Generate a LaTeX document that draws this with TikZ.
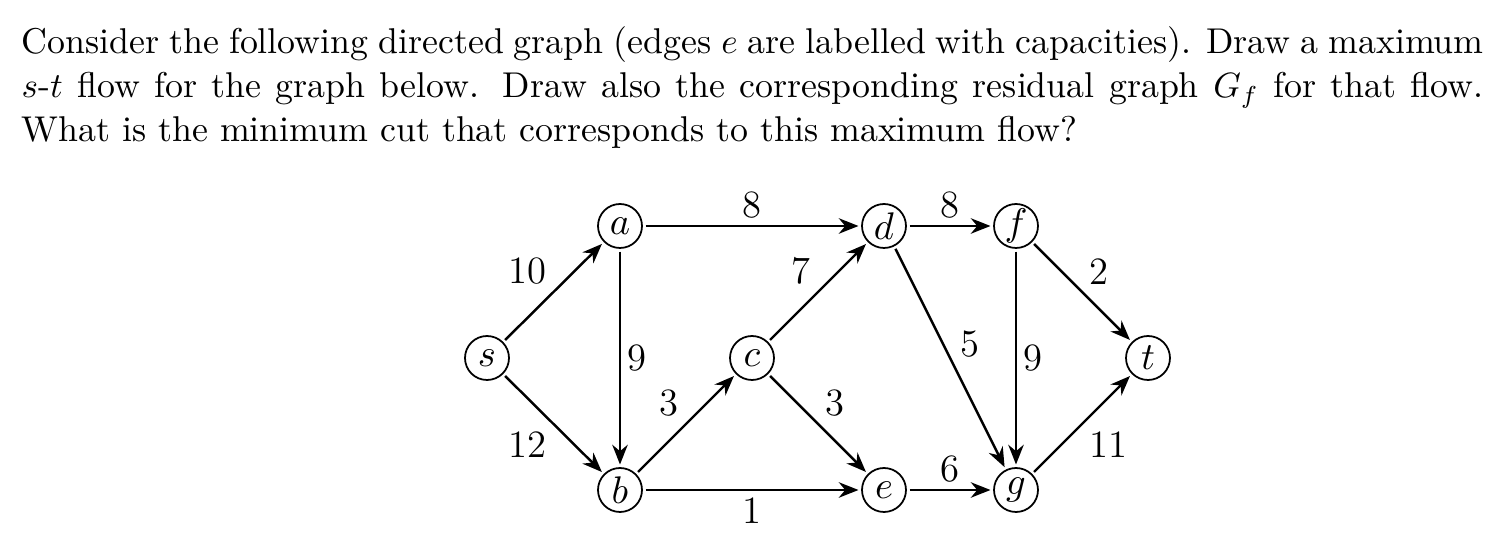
\documentclass[tikz,border=0pt]{standalone}
\usetikzlibrary{arrows.meta}
\tikzset{
    vertex/.style={circle, draw, line width=0.5pt, minimum size=4.4mm, inner sep=0pt,
                   outer sep=1pt, font=\fontsize{11}{13}\selectfont},
    capedge/.style={-{Stealth[length=5.6pt, width=4.4pt]}, line width=0.7pt},
    caplabel/.style={font=\fontsize{11}{13}\selectfont, inner sep=1.8pt},
    question/.style={text width=14.62cm, align=justify, inner sep=0pt,
                     font=\fontsize{10.2}{12.5}\selectfont},
}
\begin{document}
\begin{tikzpicture}

    \useasboundingbox (0,0) rectangle (15.12,-5.58);

    % Question text
    \node[question, anchor=base west] at (0.21,-0.54) (q) {Consider the following directed
        graph (edges $e$ are labelled with capacities). Draw a maximum\linebreak
        $s$-$t$ flow for the graph below. Draw also the corresponding residual graph
        $G_f$ for that flow.\linebreak
        What is the minimum cut that corresponds to this maximum flow?};

    % Vertices
    \node[vertex] at (4.87,-3.58)  (s) {$s$};
    \node[vertex] at (6.20,-2.26)  (a) {$a$};
    \node[vertex] at (6.20,-4.90)  (b) {$b$};
    \node[vertex] at (7.52,-3.58)  (c) {$c$};
    \node[vertex] at (8.84,-2.26)  (d) {$d$};
    \node[vertex] at (8.84,-4.90)  (e) {$e$};
    \node[vertex] at (10.16,-2.26) (f) {$f$};
    \node[vertex] at (10.16,-4.90) (g) {$g$};
    \node[vertex] at (11.48,-3.58) (t) {$t$};

    % Edges with capacities
    \draw[capedge] (s) -- node[caplabel, above left]  {10} (a);
    \draw[capedge] (s) -- node[caplabel, below left]  {12} (b);
    \draw[capedge] (a) -- node[caplabel, above]       {8}  (d);
    \draw[capedge] (a) -- node[caplabel, right]       {9}  (b);
    \draw[capedge] (b) -- node[caplabel, above left]  {3}  (c);
    \draw[capedge] (b) -- node[caplabel, below]       {1}  (e);
    \draw[capedge] (c) -- node[caplabel, above left]  {7}  (d);
    \draw[capedge] (c) -- node[caplabel, above right] {3}  (e);
    \draw[capedge] (d) -- node[caplabel, above]       {8}  (f);
    \draw[capedge] (d) -- node[caplabel, above right, pos=0.53] {5} (g);
    \draw[capedge] (e) -- node[caplabel, above]       {6}  (g);
    \draw[capedge] (f) -- node[caplabel, right]       {9}  (g);
    \draw[capedge] (f) -- node[caplabel, above right] {2}  (t);
    \draw[capedge] (g) -- node[caplabel, below right] {11} (t);

\end{tikzpicture}
\end{document}
